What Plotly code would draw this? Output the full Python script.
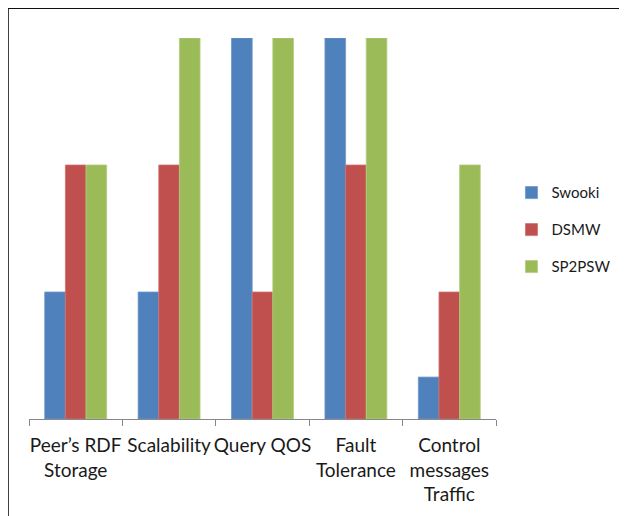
import plotly.graph_objects as go

categories = ["Peer’s RDF<br>Storage", "Scalability", "Query QOS", "Fault<br>Tolerance", "Control<br>messages<br>Traffic"]
swooki = [1, 1, 3, 3, 0.33]
dsmw = [2, 2, 1, 2, 1]
sp2psw = [2, 3, 3, 3, 2]

series = [("Swooki", swooki, "#4F81BD", "#6E97C8"),
          ("DSMW", dsmw, "#C0504D", "#CD7371"),
          ("SP2PSW", sp2psw, "#9BBB59", "#B2CB7E")]

fig = go.Figure()
for i, (name, vals, col, edge) in enumerate(series):
    fig.add_trace(go.Bar(x=categories, y=vals, name=name, legendgroup=name,
                         marker=dict(color=col, line=dict(color=edge, width=0.8))))

OFF = 8  # browser body margin
W, H = 627 - OFF, 516 - OFF
L = 28.5 - OFF
T = 38.3 - OFF
R = W - (496.5 - OFF)
B = H - (419 - OFF)
ph = H - T - B
pw = W - L - R

def px(x):
    return (x - 28.5) / pw

def py(y):
    return (419 - y) / ph

fig.update_layout(
    width=W, height=H,
    margin=dict(l=L, r=R, t=T, b=B, autoexpand=False),
    paper_bgcolor="white", plot_bgcolor="white",
    barmode="group", bargap=0.337, bargroupgap=0,
    font=dict(family="Lato", color="#1a1a1a"),
    xaxis=dict(showline=True, linecolor="#888888", linewidth=1, ticks="outside",
               tickson="boundaries", ticklen=6, tickcolor="#888888", tickangle=0,
               tickfont=dict(size=19), ticklabelstandoff=9, showgrid=False),
    yaxis=dict(range=[0, 3], visible=False, showgrid=False),
    legend=dict(x=px(512), xanchor="left", y=py(230), yanchor="middle",
                traceorder="grouped", tracegroupgap=14.5, font=dict(size=15),
                bgcolor="rgba(0,0,0,0)"),
    shapes=[dict(type="rect", xref="paper", yref="paper",
                 x0=px(7), x1=2, y0=-1, y1=py(8),
                 line=dict(color="#111111", width=2.5), layer="above")],
)

fig.write_html("out.html")
